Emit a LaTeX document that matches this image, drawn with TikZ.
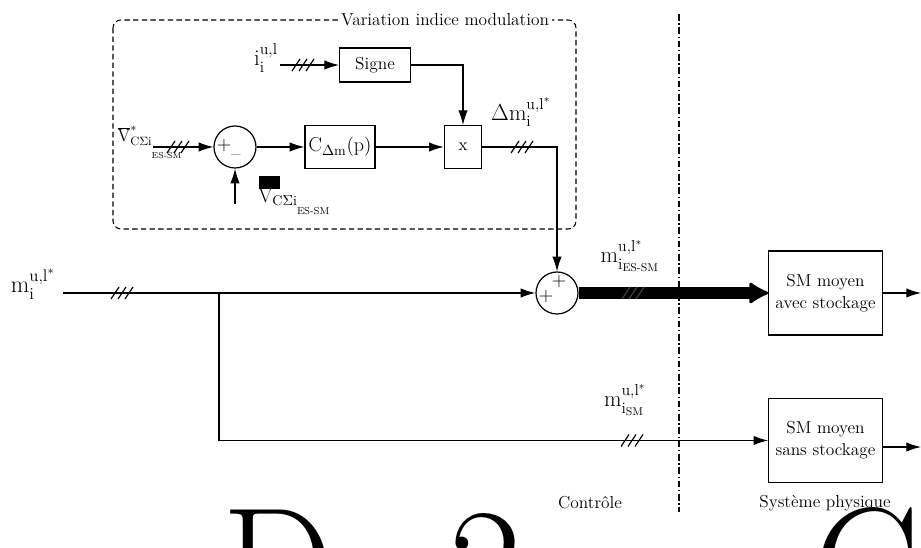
\documentclass[tikz,border=0pt]{standalone}
\usepackage{amsmath}
\usepackage{fontspec}
\usetikzlibrary{arrows.meta}

\begin{document}
\begin{tikzpicture}[
  x=0.75pt, y=-0.75pt,
  font=\fontsize{13}{16.5}\selectfont,
  filo/.style={draw, line width=0.9pt},
  freccia/.style={filo, -{Latex[length=11pt, width=7pt]}},
  potenza/.style={draw, line width=9.5pt, -{Latex[length=16pt, width=18pt, line width=2pt, round]}},
  blocco/.style={filo, rectangle, inner sep=2pt},
  somma/.style={filo, circle, minimum size=31.5pt, inner sep=0pt},
  cornice/.style={draw, line width=0.8pt, dash pattern=on 4pt off 2.5pt, rounded corners=6pt},
  separatore/.style={draw, line width=0.8pt, dash pattern=on 5pt off 2pt on 1pt off 2pt},
  etichetta/.style={font=\fontsize{17}{20}\selectfont, inner sep=1pt},
  segno/.style={font=\fontsize{15}{15}\selectfont, inner sep=0pt},
  gigante/.style={font=\fontsize{118}{120}\selectfont, inner sep=0pt, anchor=base west},
  tripla/.pic={\foreach \dx in {-7,0,7} \draw[line width=0.9pt] (\dx-4,6) -- (\dx+4,-6);}
]

\useasboundingbox (0,0) rectangle (921,548);
\clip (0,0) rectangle (921,548);

%--------------------------------------------------------------
% Separazione tra controllo e sistema fisico
%--------------------------------------------------------------
\coordinate (sep alto) at (679,14);
\coordinate (sep basso) at (679,512);
\draw[separatore] (sep alto) -- (sep basso);
\node (controle) at (590,503) {Contrôle};
\node (sistema) at (825,503) {Système physique};

%--------------------------------------------------------------
% Cornice della variazione dell'indice di modulazione
%--------------------------------------------------------------
\draw[cornice] (113,20) rectangle (576,229);
\node[fill=white, inner sep=2pt] (titolo) at (445,20) {Variation indice modulation};

%--------------------------------------------------------------
% Blocchi
%--------------------------------------------------------------
\node[somma] (sum1) at (235,147) {};
\node[blocco, minimum width=52.5pt, minimum height=32pt, font=\fontsize{15}{16}\selectfont] (cdm) at (340,147) {$\mathrm{C}_{\Delta\mathrm{m}}\mathrm{(p)}$};
\node[blocco, minimum width=28pt, minimum height=32pt] (mult) at (463,147) {x};
\node[blocco, minimum width=53pt, minimum height=25.5pt] (signe) at (375,65) {Signe};
\node[somma] (sum2) at (557,293) {};
\node[blocco, align=center, minimum width=85pt, minimum height=63pt] (smavec) at (825.5,293) {SM moyen\\avec stockage};
\node[blocco, align=center, minimum width=85pt, minimum height=63.5pt] (smsans) at (825.5,440.5) {SM moyen\\sans stockage};

% segni dei sommatori
\node[segno] at ([shift={(-11,-1)}]sum1.center) {+};
\node[segno] at ([shift={(1,11)}]sum1.center) {--};
\node[segno] at ([shift={(2,-11)}]sum2.center) {+};
\node[segno] at ([shift={(-11,4)}]sum2.center) {+};

%--------------------------------------------------------------
% Anello interno
%--------------------------------------------------------------
\coordinate (ingresso v) at (153,147);
\draw[freccia] (ingresso v) -- (sum1.west);
\pic at (178,147) {tripla};
\coordinate (misura v) at (235,204);
\draw[freccia] (misura v) -- (sum1.south);
\draw[freccia] (sum1.east) -- (cdm.west);
\draw[freccia] (cdm.east) -- (mult.west);
\coordinate (ingresso i) at (280,65);
\draw[freccia] (ingresso i) -- (signe.west);
\pic at (303,65) {tripla};
\draw[freccia] (signe.east) -| (mult.north);
\draw[freccia] (mult.east) -| (sum2.north);
\pic at (522,147) {tripla};

%--------------------------------------------------------------
% Indici di modulazione verso i SM
%--------------------------------------------------------------
\coordinate (ingresso m) at (63,293);
\coordinate (ramo) at (219,293);
\draw[freccia] (ingresso m) -- (sum2.west);
\pic at (122,293) {tripla};
\draw[freccia] (ramo) |- (smsans.west);
\pic at (632,440.5) {tripla};
\draw[potenza] (sum2.east) -- (smavec.west);
\pic[darkgray] at (633,293) {tripla};
\coordinate (uscita avec) at (921,293);
\draw[freccia] (smavec.east) -- (uscita avec);
\coordinate (uscita sans) at (921,447);
\draw[freccia] (smsans.east |- uscita sans) -- (uscita sans);

%--------------------------------------------------------------
% Etichette
%--------------------------------------------------------------
\node[etichetta] (lab i) at (266,58) {$\mathrm{i}_{\mathrm{i}}^{\mathrm{u,l}}$};
\node[etichetta, font=\fontsize{13}{15}\selectfont, anchor=north west] (lab v) at (116,124) {$\overline{\mathrm{V}}^{*}_{\mathrm{C}\Sigma\mathrm{i}_{\text{\raisebox{-3ex}{ES-SM}}}}$};
\fill (259,176) rectangle (280,189);
\node[etichetta, font=\fontsize{15}{17}\selectfont, anchor=north west] (lab vm) at (257,187) {$\mathrm{V}_{\mathrm{C}\Sigma\mathrm{i}_{\text{\raisebox{-1.6ex}{ES-SM}}}}$};
\node[etichetta] (lab dm) at (521,112) {$\Delta\mathrm{m}_{\mathrm{i}}^{\mathrm{u,l}^{*}}$};
\node[etichetta, font=\fontsize{18}{20}\selectfont] (lab m) at (33,284) {$\mathrm{m}_{\mathrm{i}}^{\mathrm{u,l}^{*}}$};
\node[etichetta] (lab mes) at (630,256) {$\mathrm{m}_{\mathrm{i}_{\text{ES-SM}}}^{\mathrm{u,l}^{*}}$};
\node[etichetta] (lab msm) at (625,400) {$\mathrm{m}_{\mathrm{i}_{\text{SM}}}^{\mathrm{u,l}^{*}}$};

% lettere giganti tagliate dal bordo
\node[gigante] (lettera d) at (222,617) {D};
\node[gigante] (lettera due) at (449,617) {2};
\node[gigante] (lettera c) at (814,617) {C};

\end{tikzpicture}
\end{document}
